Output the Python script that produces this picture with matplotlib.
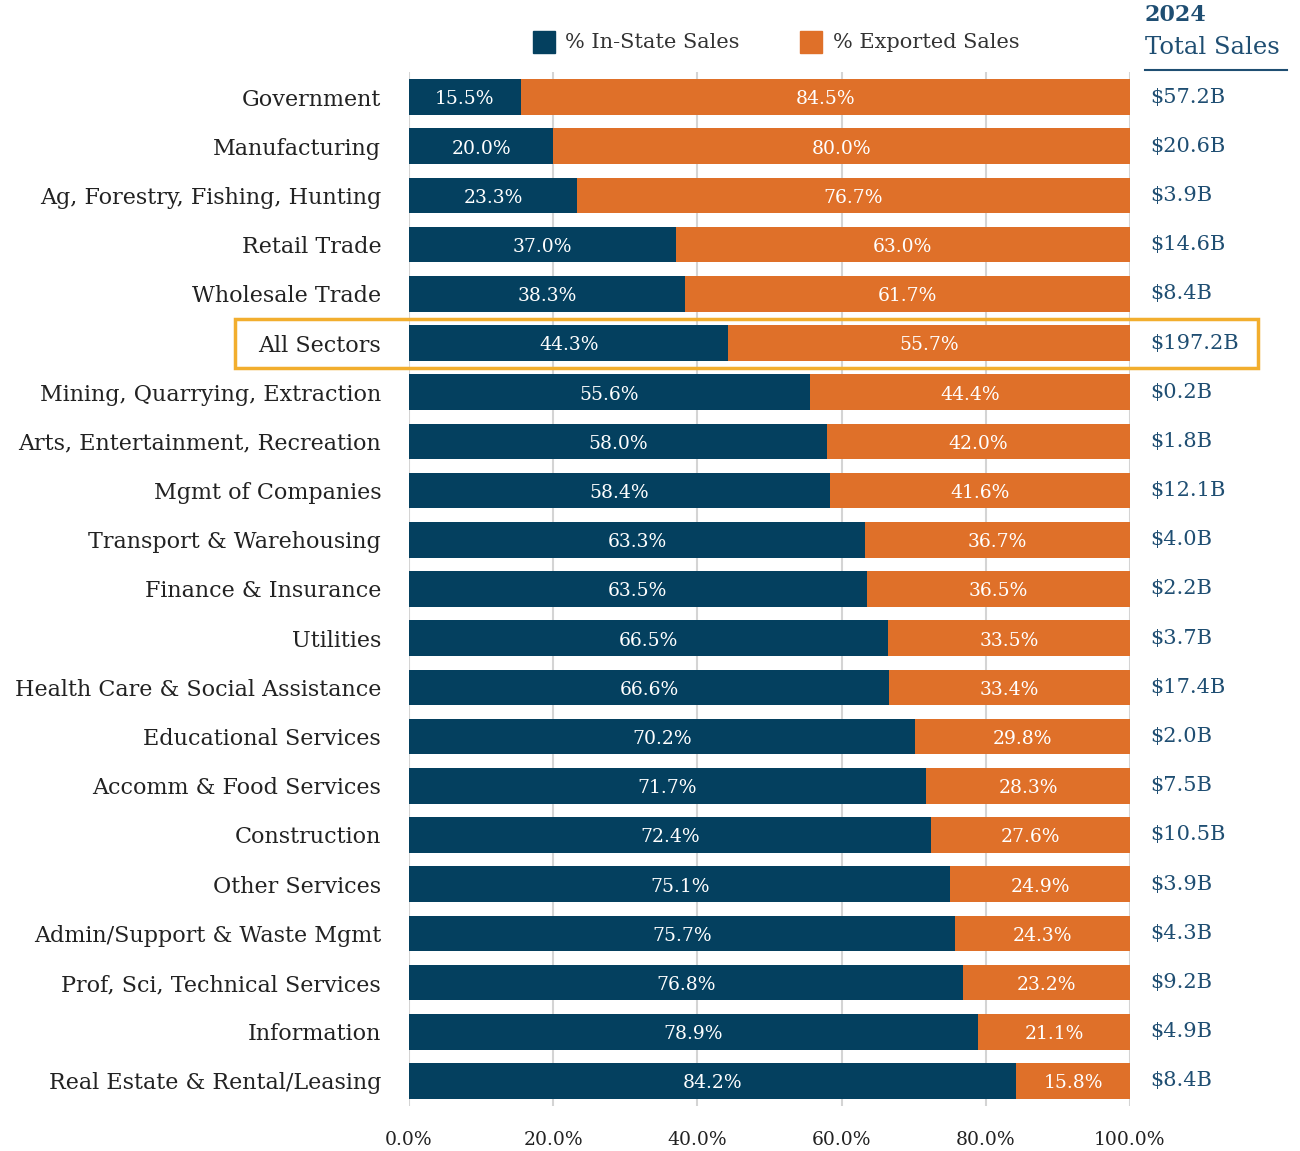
import matplotlib
matplotlib.use("Agg")
import matplotlib.pyplot as plt
from matplotlib.patches import Rectangle

categories = ["Government", "Manufacturing", "Ag, Forestry, Fishing, Hunting", "Retail Trade",
              "Wholesale Trade", "All Sectors", "Mining, Quarrying, Extraction",
              "Arts, Entertainment, Recreation", "Mgmt of Companies", "Transport & Warehousing",
              "Finance & Insurance", "Utilities", "Health Care & Social Assistance",
              "Educational Services", "Accomm & Food Services", "Construction", "Other Services",
              "Admin/Support & Waste Mgmt", "Prof, Sci, Technical Services", "Information",
              "Real Estate & Rental/Leasing"]
in_state = [15.5, 20.0, 23.3, 37.0, 38.3, 44.3, 55.6, 58.0, 58.4, 63.3, 63.5, 66.5, 66.6,
            70.2, 71.7, 72.4, 75.1, 75.7, 76.8, 78.9, 84.2]
exported = [84.5, 80.0, 76.7, 63.0, 61.7, 55.7, 44.4, 42.0, 41.6, 36.7, 36.5, 33.5, 33.4,
            29.8, 28.3, 27.6, 24.9, 24.3, 23.2, 21.1, 15.8]
total_sales = ["$57.2B", "$20.6B", "$3.9B", "$14.6B", "$8.4B", "$197.2B", "$0.2B", "$1.8B",
               "$12.1B", "$4.0B", "$2.2B", "$3.7B", "$17.4B", "$2.0B", "$7.5B", "$10.5B",
               "$3.9B", "$4.3B", "$9.2B", "$4.9B", "$8.4B"]
xticks = [0, 20, 40, 60, 80, 100]
xtick_labels = ["0.0%", "20.0%", "40.0%", "60.0%", "80.0%", "100.0%"]

NAVY = "#04405f"
ORANGE = "#df7029"
BLUE_TXT = "#1f4e72"
plt.rcParams['font.family'] = ['DejaVu Serif']

W, H = 1300, 1151
fig = plt.figure(figsize=(W/100, H/100), dpi=100)
ax_top, ax_bot = 72.4, 1105.6
ax = fig.add_axes([409/W, 1 - ax_bot/H, 721/W, (ax_bot - ax_top)/H])

y = list(range(len(categories)))
ax.barh(y, in_state, height=0.72, color=NAVY, zorder=3)
ax.barh(y, exported, left=in_state, height=0.72, color=ORANGE, zorder=3)
for i in y:
    ax.text(in_state[i]/2, i + 0.05, f"{in_state[i]:.1f}%", color="white", ha="center",
            va="center", fontsize=13.5, zorder=4)
    ax.text(in_state[i] + exported[i]/2, i + 0.05, f"{exported[i]:.1f}%", color="white",
            ha="center", va="center", fontsize=13.5, zorder=4)
    ax.text(102.8, i, total_sales[i], color=BLUE_TXT, ha="left",
            va="center", fontsize=15, zorder=4)

ax.set_ylim(20.5, -0.5)
ax.set_xlim(0, 100)
ax.set_yticks(y)
ax.set_yticklabels(categories, fontsize=16, color="#222222")
ax.set_xticks(xticks)
ax.set_xticklabels(xtick_labels, fontsize=13.5, color="#222222")
ax.tick_params(axis="both", length=0)
ax.tick_params(axis="y", pad=20)
ax.tick_params(axis="x", pad=18)
for s in ax.spines.values():
    s.set_visible(False)
ax.grid(axis="x", color="#d4d4d4", linewidth=1.5, zorder=0)
ax.set_axisbelow(True)

# highlight box around "All Sectors"
fig.patches.append(Rectangle((235/W, 1 - 368/H), (1258-235)/W, (368-319)/H,
                             transform=fig.transFigure, fill=False, edgecolor="#f2ae2e",
                             linewidth=2.5, zorder=10))

# legend
fig.patches.append(Rectangle((533/W, 1 - 53/H), 22/W, 22/H, transform=fig.transFigure,
                             color=NAVY))
fig.text(565/W, 1 - 43/H, "% In-State Sales", fontsize=15, color="#333333", va="center")
fig.patches.append(Rectangle((800/W, 1 - 53/H), 22/W, 22/H, transform=fig.transFigure,
                             color=ORANGE))
fig.text(833/W, 1 - 43/H, "% Exported Sales", fontsize=15, color="#333333", va="center")

# right header
fig.text(1145/W, 1 - 15/H, "2024", fontsize=16, color=BLUE_TXT, fontweight="bold", va="center")
fig.text(1145/W, 1 - 47/H, "Total Sales", fontsize=17.5, color=BLUE_TXT, va="center")
fig.add_artist(plt.Line2D([1145/W, 1287/W], [1 - 70/H, 1 - 70/H], color=BLUE_TXT,
                          linewidth=1.5, transform=fig.transFigure))

fig.savefig("out.png", dpi=100)
